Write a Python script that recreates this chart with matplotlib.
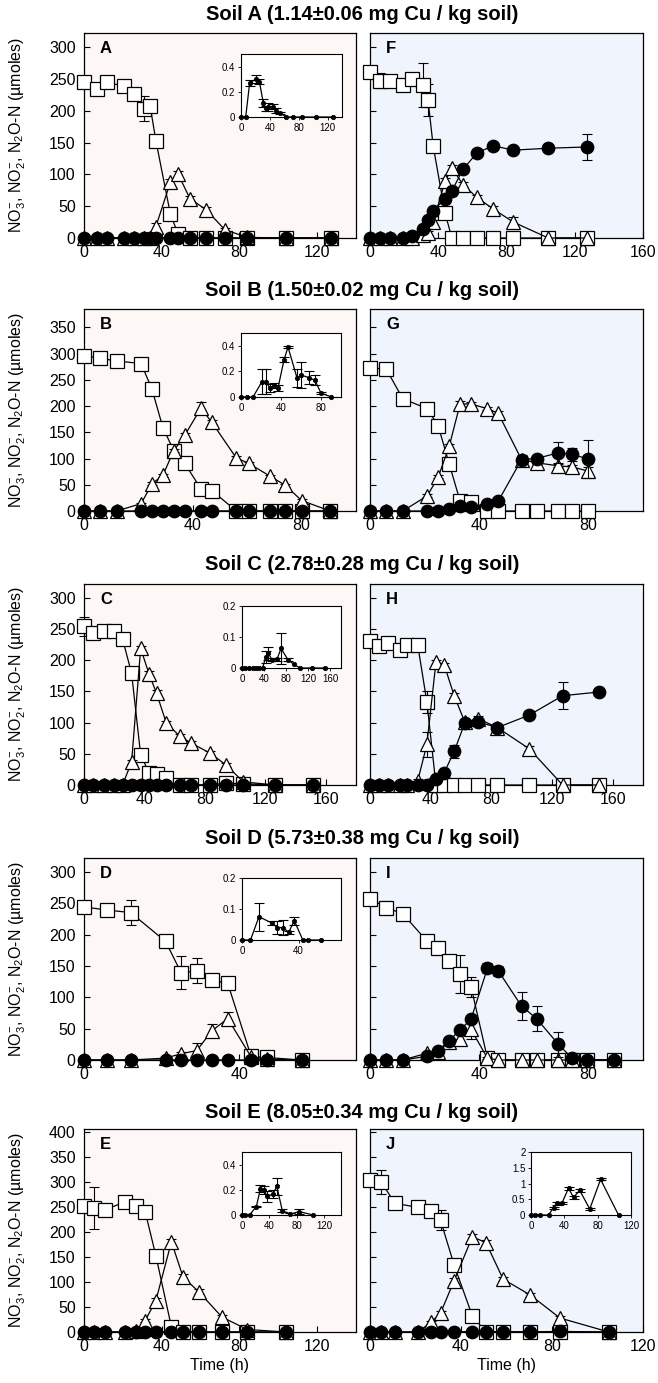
import matplotlib

matplotlib.use("Agg")
import matplotlib.pyplot as plt
import numpy as np

plt.rcParams["font.family"] = ["Liberation Sans", "DejaVu Sans"]
plt.rcParams["mathtext.fontset"] = "custom"
plt.rcParams["mathtext.rm"] = "Liberation Sans"
plt.rcParams["mathtext.it"] = "Liberation Sans:italic"

W, H = 658, 1383

# ---- data (time in h; NO3-, NO2-, N2O-N in umoles; *_e = error bars) ----
t_a = [0, 6.5, 12, 20.5, 25.5, 31, 34, 37, 44.5, 48.5, 54.5, 63, 72.5, 84, 104, 127]
no3_a = [245, 234, 245, 238, 226, 203, 208, 153, 37, 6, 0, 0, 0, 0, 0, 0]
no3e_a = [5, 6, 3, 3, 4, 20, 8, 3, 3, 2, 0, 0, 0, 0, 0, 0]
no2_a = [0, 0, 0, 0, 0, 0, 0, 18, 88, 100, 62, 44, 13, 1, 0, 0]
no2e_a = [0, 0, 0, 0, 0, 0, 0, 5, 5, 6, 4, 4, 3, 1, 0, 0]
n2o_a = [0, 0, 0.27, 0.30, 0.28, 0.11, 0.07, 0.08, 0.08, 0.05, 0.03, 0, 0, 0, 0, 0]
n2oe_a = [0, 0, 0.02, 0.03, 0.02, 0.03, 0.02, 0.03, 0.02, 0.02, 0.01, 0, 0, 0, 0, 0]

t_f = [0, 6, 12, 19.5, 24.5, 31, 34, 37, 44, 48, 54.5, 62.5, 72, 84, 104.5, 127]
no3_f = [260, 247, 246, 240, 249, 240, 217, 145, 39, 0, 0, 0, 0, 0, 0, 0]
no3e_f = [3, 12, 3, 3, 8, 35, 25, 3, 3, 0, 0, 0, 0, 0, 0, 0]
no2_f = [0, 0, 0, 0, 0, 5, 8, 25, 89, 110, 84, 64, 46, 25, 0, 0]
no2e_f = [0, 0, 0, 0, 0, 2, 3, 4, 5, 5, 4, 4, 4, 8, 0, 0]
n2o_f = [0, 0, 0, 0, 3, 14, 29, 43, 62, 74, 108, 133, 145, 138, 141, 143]
n2oe_f = [0, 0, 0, 0, 1, 2, 2, 2, 3, 3, 3, 3, 3, 3, 3, 20]

t_b = [0, 6, 12, 21, 25, 29, 33, 37, 43, 47, 56, 60.5, 68.5, 74, 80, 90.5]
no3_b = [296, 291, 286, 281, 232, 159, 115, 91, 42, 39, 0, 0, 0, 0, 0, 0]
no3e_b = [3, 3, 3, 3, 3, 3, 3, 3, 3, 3, 0, 0, 0, 0, 0, 0]
no2_b = [0, 0, 0, 14, 52, 68, 115, 144, 196, 169, 101, 91, 66, 49, 20, 0]
no2e_b = [0, 0, 0, 2, 3, 3, 3, 4, 12, 4, 3, 3, 3, 3, 2, 0]
n2o_b = [0, 0, 0, 0.12, 0.12, 0.07, 0.09, 0.07, 0.29, 0.39, 0.15, 0.17, 0.15, 0.13, 0.03, 0]
n2oe_b = [0, 0, 0, 0.1, 0.1, 0.03, 0.02, 0.02, 0.02, 0.01, 0.07, 0.1, 0.05, 0.04, 0.01, 0]

t_g = [0, 6, 12, 21, 25, 29, 33, 37, 43, 47, 55.5, 61, 69, 74, 80]
no3_g = [273, 270, 214, 195, 162, 90, 19, 17, 0, 0, 0, 0, 0, 0, 0]
no3e_g = [3, 3, 3, 3, 3, 3, 3, 3, 0, 0, 0, 0, 0, 0, 0]
no2_g = [0, 0, 0, 29, 65, 123, 204, 204, 195, 186, 98, 92, 86, 84, 76]
no2e_g = [0, 0, 0, 3, 3, 4, 6, 4, 3, 4, 3, 3, 3, 3, 8]
n2o_g = [0, 0, 0, 0, 0, 4, 9, 8, 14, 19, 98, 100, 111, 108, 99]
n2oe_g = [0, 0, 0, 0, 0, 1, 2, 2, 3, 5, 8, 3, 20, 12, 37]

t_c = [0, 6, 13, 20, 25.5, 31.5, 37.5, 43, 48, 54.5, 63.5, 71, 83.5, 94, 105.5, 126.5, 151.5]
no3_c = [254, 243, 247, 247, 234, 179, 48, 20, 17, 12, 0, 0, 0, 3, 2, 0, 0]
no3e_c = [15, 4, 3, 4, 10, 3, 3, 7, 10, 3, 0, 0, 0, 0, 0, 0, 0]
no2_c = [0, 0, 0, 0, 0, 37, 219, 178, 147, 99, 78, 67, 51, 32, 5, 0, 0]
no2e_c = [0, 0, 0, 0, 0, 3, 4, 5, 5, 4, 3, 3, 3, 3, 2, 0, 0]
n2o_c = [0, 0, 0, 0, 0, 0, 0, 0.035, 0.047, 0.027, 0.028, 0.063, 0.027, 0.012, 0, 0, 0]
n2oe_c = [0, 0, 0, 0, 0, 0, 0, 0.02, 0.022, 0.005, 0.005, 0.05, 0.005, 0, 0, 0, 0]

t_h = [0, 6, 12, 20, 24.5, 31.5, 37.5, 43.5, 49, 55.5, 62.5, 71.5, 84, 105, 127, 151]
no3_h = [230, 222, 228, 217, 224, 224, 133, 0, 0, 0, 0, 0, 0, 0, 0, 0]
no3e_h = [8, 6, 3, 10, 6, 8, 18, 0, 0, 0, 0, 0, 0, 0, 0, 0]
no2_h = [0, 0, 0, 0, 0, 7, 65, 197, 192, 143, 101, 106, 92, 58, 0, 0]
no2e_h = [0, 0, 0, 0, 0, 3, 20, 4, 4, 4, 4, 4, 3, 4, 0, 0]
n2o_h = [0, 0, 0, 0, 0, 0, 0, 10, 20, 54, 99, 101, 92, 112, 143, 149]
n2oe_h = [0, 0, 0, 0, 0, 0, 0, 3, 3, 10, 4, 4, 3, 6, 22, 3]

t_d = [0, 6, 12, 21, 25, 29, 33, 37, 43, 47, 56]
no3_d = [244, 239, 235, 189, 139, 142, 127, 122, 6, 4, 0]
no3e_d = [3, 3, 20, 3, 26, 20, 3, 3, 2, 2, 0]
no2_d = [0, 0, 0, 3, 10, 15, 47, 66, 5, 1, 0]
no2e_d = [0, 0, 0, 1, 2, 12, 10, 10, 1, 0, 0]
n2o_d = [0, 0, 0.075, 0.055, 0.04, 0.04, 0.025, 0.062, 0, 0, 0]
n2oe_d = [0, 0, 0.045, 0.005, 0.02, 0.025, 0.005, 0.012, 0, 0, 0]

t_i = [0, 6, 12, 21, 25, 29, 33, 37, 43, 47, 55.5, 61, 69, 74, 79.5, 89.5]
no3_i = [257, 243, 233, 189, 179, 158, 137, 117, 3, 0, 0, 0, 0, 0, 0, 0]
no3e_i = [3, 10, 8, 3, 3, 3, 30, 16, 2, 0, 0, 0, 0, 0, 0, 0]
no2_i = [0, 0, 0, 11, 13, 28, 34, 49, 3, 0, 0, 0, 0, 0, 0, 0]
no2e_i = [0, 0, 0, 2, 2, 3, 8, 15, 1, 0, 0, 0, 0, 0, 0, 0]
n2o_i = [0, 0, 0, 6, 15, 31, 48, 65, 146, 142, 86, 66, 25, 3, 0, 0]
n2oe_i = [0, 0, 0, 2, 2, 3, 3, 4, 8, 8, 22, 20, 20, 0, 0, 0]

t_e = [0, 5, 11, 21, 27, 31.5, 37, 45, 51, 59, 71, 84, 104]
no3_e = [253, 248, 245, 261, 252, 241, 153, 10, 0, 0, 0, 0, 0]
no3e_e = [3, 42, 12, 3, 10, 3, 3, 2, 0, 0, 0, 0, 0]
no2_e = [0, 0, 0, 0, 2, 23, 63, 181, 110, 81, 30, 5, 0]
no2e_e = [0, 0, 0, 0, 1, 3, 6, 6, 6, 5, 5, 2, 0]
n2o_e = [0, 0, 0, 0.067, 0.21, 0.20, 0.147, 0.165, 0.227, 0.035, 0.008, 0.027, 0]
n2oe_e = [0, 0, 0, 0.005, 0.03, 0.03, 0.04, 0.03, 0.065, 0.01, 0.005, 0.02, 0]

t_j = [0, 5, 11, 21, 27, 31, 37, 45, 51, 58.5, 70.5, 83.5, 105]
no3_j = [305, 300, 258, 250, 242, 224, 134, 32, 0, 0, 0, 0, 0]
no3e_j = [5, 24, 8, 3, 3, 20, 3, 2, 0, 0, 0, 0, 0]
no2_j = [0, 0, 0, 0, 20, 38, 103, 191, 179, 106, 74, 28, 0]
no2e_j = [0, 0, 0, 0, 3, 5, 5, 6, 6, 4, 4, 4, 0]
n2o_j = [0, 0, 0, 0, 0.23, 0.37, 0.37, 0.85, 0.56, 0.78, 0.19, 1.13, 0]
n2oe_j = [0, 0, 0, 0, 0.03, 0.05, 0.03, 0.05, 0.05, 0.04, 0.03, 0.03, 0]

titles = ["Soil A (1.14\u00b10.06 mg Cu / kg soil)",
          "Soil B (1.50\u00b10.02 mg Cu / kg soil)",
          "Soil C (2.78\u00b10.28 mg Cu / kg soil)",
          "Soil D (5.73\u00b10.38 mg Cu / kg soil)",
          "Soil E (8.05\u00b10.34 mg Cu / kg soil)"]

LEFT_BG = "#fdf8f6"
RIGHT_BG = "#eff4fd"

# row layout in pixels: (axes top, axes bottom, title y)
rows = [(33, 238, 15), (309, 511, 291), (584, 785, 565), (858, 1060, 838), (1129, 1332, 1113)]
ymax = [322, 385, 322, 322, 407]
ytop = [300, 350, 300, 300, 400]


def rect(x0, y0, x1, y1):
    return [x0 / W, 1 - y1 / H, (x1 - x0) / W, (y1 - y0) / H]


def series(ax, t, y, e, marker, fc, ms, z, lw=0.9, mew=0.9, cap=3.5):
    t, y, e = np.asarray(t), np.asarray(y), np.asarray(e)
    m = e > 0
    if m.any():
        ax.errorbar(t[m], y[m], yerr=e[m], fmt="none", ecolor="black",
                    elinewidth=0.8, capsize=cap, capthick=0.8, zorder=z - 0.5, clip_on=False)
    ax.plot(t, y, color="black", lw=lw, marker=marker, ms=ms, mfc=fc, mec="black",
            mew=mew, zorder=z, clip_on=False)


def main_panel(ax, data, xmax, xticks, row, letter, left):
    t, no3, no3e, no2, no2e, n2o, n2oe = data
    ax.set_facecolor(LEFT_BG if left else RIGHT_BG)
    series(ax, t, no3, no3e, "s", "white", 9.5, 3)
    series(ax, t, no2, no2e, "^", "white", 10, 4)
    series(ax, t, n2o, n2oe, "o", "black", 9, 5)
    ax.set_xlim(0, xmax)
    ax.set_ylim(0, ymax[row])
    ax.set_xticks(xticks)
    ax.set_yticks(np.arange(0, ytop[row] + 1, 50))
    ax.tick_params(axis="x", direction="in", length=4, width=0.8, labelsize=11.5, pad=5)
    ax.tick_params(axis="y", direction="in", length=4, width=0.8, labelsize=11.5, pad=6,
                   labelleft=left)
    for s in ax.spines.values():
        s.set_linewidth(0.9)
    ax.annotate(letter, xy=(0, 1), xycoords="axes fraction", xytext=(16, -8),
                textcoords="offset pixels", ha="left", va="top", fontsize=12, fontweight="bold")
    if left:
        ax.set_ylabel("NO$_3^{-}$, NO$_2^{-}$, N$_2$O-N (\u00b5moles)", fontsize=11.5)
        ax.yaxis.set_label_coords(-0.205, 0.5)


def inset(box, t, y, e, xmax, xticks, ylim, yticks, ylabels):
    ax = fig.add_axes(rect(*box))
    ax.set_facecolor("white")
    series(ax, t, y, e, "o", "black", 3.2, 5, lw=0.9, mew=0.5, cap=3.5)
    ax.set_xlim(0, xmax)
    ax.set_ylim(*ylim)
    ax.set_xticks(xticks)
    ax.set_yticks(yticks)
    ax.set_yticklabels(ylabels)
    ax.tick_params(direction="out", length=2, width=0.6, labelsize=7, pad=2)
    for s in ax.spines.values():
        s.set_linewidth(0.8)
    return ax


fig = plt.figure(figsize=(W / 100, H / 100), dpi=100)

panels = [
    ((t_a, no3_a, no3e_a, no2_a, no2e_a, n2o_a, n2oe_a), 140, [0, 40, 80, 120], "A",
     (t_f, no3_f, no3e_f, no2_f, no2e_f, n2o_f, n2oe_f), 160, [0, 40, 80, 120, 160], "F"),
    ((t_b, no3_b, no3e_b, no2_b, no2e_b, n2o_b, n2oe_b), 100, [0, 40, 80], "B",
     (t_g, no3_g, no3e_g, no2_g, no2e_g, n2o_g, n2oe_g), 100, [0, 40, 80], "G"),
    ((t_c, no3_c, no3e_c, no2_c, no2e_c, n2o_c, n2oe_c), 180, [0, 40, 80, 120, 160], "C",
     (t_h, no3_h, no3e_h, no2_h, no2e_h, n2o_h, n2oe_h), 180, [0, 40, 80, 120, 160], "H"),
    ((t_d, no3_d, no3e_d, no2_d, no2e_d, n2o_d, n2oe_d), 70, [0, 40], "D",
     (t_i, no3_i, no3e_i, no2_i, no2e_i, n2o_i, n2oe_i), 100, [0, 40, 80], "I"),
    ((t_e, no3_e, no3e_e, no2_e, no2e_e, n2o_e, n2oe_e), 140, [0, 40, 80, 120], "E",
     (t_j, no3_j, no3e_j, no2_j, no2e_j, n2o_j, n2oe_j), 120, [0, 40, 80, 120], "J"),
]

for r, (ldata, lxmax, lxt, lletter, rdata, rxmax, rxt, rletter) in enumerate(panels):
    top, bot, ty = rows[r]
    axl = fig.add_axes(rect(84, top, 356, bot))
    main_panel(axl, ldata, lxmax, lxt, r, lletter, True)
    axr = fig.add_axes(rect(370, top, 643, bot))
    main_panel(axr, rdata, rxmax, rxt, r, rletter, False)
    fig.text(362 / W, 1 - ty / H, titles[r], ha="center", va="center",
             fontsize=14.5, fontweight="bold")
    if r == 4:
        axl.set_xlabel("Time (h)", fontsize=11.5, labelpad=3)
        axr.set_xlabel("Time (h)", fontsize=11.5, labelpad=3)

# insets with N2O-N detail
inset((241, 54, 342, 117), t_a, n2o_a, n2oe_a, 140, [0, 40, 80, 120], (0, 0.5), [0, 0.2, 0.4], ["0", "0.2", "0.4"])
inset((241, 333, 341, 397), t_b, n2o_b, n2oe_b, 100, [0, 40, 80], (0, 0.5), [0, 0.2, 0.4], ["0", "0.2", "0.4"])
inset((242, 606, 341, 668), t_c, n2o_c, n2oe_c, 180, [0, 40, 80, 120, 160], (0, 0.2), [0, 0.1, 0.2], ["0", "0.1", "0.2"])
inset((242, 878, 341, 940), t_d, n2o_d, n2oe_d, 70, [0, 40], (0, 0.2), [0, 0.1, 0.2], ["0", "0.1", "0.2"])
inset((242, 1152, 341, 1215), t_e, n2o_e, n2oe_e, 145, [0, 40, 80, 120], (0, 0.5), [0, 0.2, 0.4], ["0", "0.2", "0.4"])
inset((531, 1152, 631, 1215), t_j, n2o_j, n2oe_j, 120, [0, 40, 80, 120], (0, 2), [0, 0.5, 1, 1.5, 2], ["0", "0.5", "1", "1.5", "2"])

fig.savefig("out.png", dpi=100)
